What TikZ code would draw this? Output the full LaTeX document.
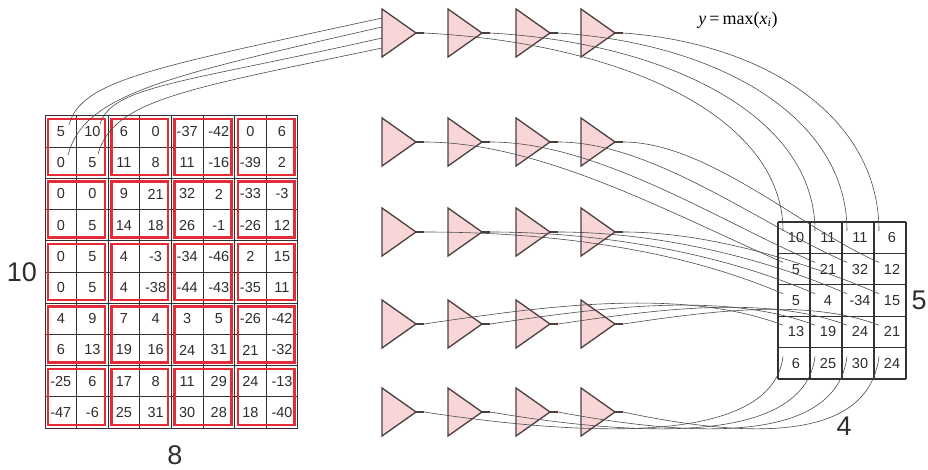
\documentclass[tikz,border=0pt]{standalone}
\usepackage{fontspec}
\setmainfont{Liberation Sans}
\newfontfamily\tms{Liberation Serif}
\definecolor{redb}{RGB}{226,44,56}
\definecolor{trifill}{RGB}{248,214,216}
\definecolor{tristroke}{RGB}{75,62,62}
\definecolor{wirec}{RGB}{75,75,75}
\definecolor{gridc}{RGB}{50,50,50}
\definecolor{txt}{RGB}{45,45,45}
\begin{document}
\begin{tikzpicture}[x=1pt,y=-1pt,
  num/.style={font=\fontsize{14.5}{14.5}\selectfont, text=txt, inner sep=0pt},
  big/.style={font=\fontsize{27}{27}\selectfont, text=txt, inner sep=0pt},
  gline/.style={draw=gridc, line width=1pt},
  rline/.style={draw=gridc, line width=1.2pt},
  redbox/.style={draw=redb, line width=2.5pt},
  tri/.style={fill=trifill, draw=tristroke, line width=1.3pt, line join=miter},
  stubline/.style={draw=tristroke, line width=1.3pt},
  wire/.style={draw=wirec, line width=0.6pt}]
\useasboundingbox (0,0) rectangle (928,470);

% ---------- left grid 10 x 8 ----------
\foreach \i in {0,...,8} \draw[gline] ({45+31.6*\i},116) -- ({45+31.6*\i},428);
\foreach \j in {0,...,10} \draw[gline] (45,{116+31.2*\j}) -- (297.8,{116+31.2*\j});
\foreach \br in {1,...,5} \foreach \bc in {1,...,4}
  \draw[redbox] ({45+63.2*(\bc-1)+3.2},{116+62.4*(\br-1)+3.2}) rectangle ({45+63.2*\bc-3.2},{116+62.4*\br-3.2});
\foreach \r/\vals in {1/{5,10,6,0,-37,-42,0,6},
                      2/{0,5,11,8,11,-16,-39,2},
                      3/{0,0,9,21,32,2,-33,-3},
                      4/{0,5,14,18,26,-1,-26,12},
                      5/{0,5,4,-3,-34,-46,2,15},
                      6/{0,5,4,-38,-44,-43,-35,11},
                      7/{4,9,7,4,3,5,-26,-42},
                      8/{6,13,19,16,24,31,21,-32},
                      9/{-25,6,17,8,11,29,24,-13},
                      10/{-47,-6,25,31,30,28,18,-40}}
  \foreach \v [count=\c] in \vals
    \node[num] (L-\r-\c) at ({45+31.6*(\c-0.5)},{116+31.2*(\r-0.5)}) {\v};

% ---------- right grid 5 x 4 ----------
\foreach \i in {0,...,4} \draw[rline] ({778+32*\i},222) -- ({778+32*\i},379);
\foreach \j in {0,...,5} \draw[rline] (778,{222+31.4*\j}) -- (906,{222+31.4*\j});
\foreach \r/\vals in {1/{10,11,11,6},2/{5,21,32,12},3/{5,4,-34,15},4/{13,19,24,21},5/{6,25,30,24}}
  \foreach \v [count=\c] in \vals {
    \node[num] (R-\r-\c) at ({778+32*(\c-0.5)+2},{222+31.4*(\r-0.5)}) {\v};
    \coordinate (E-\r-\c) at ({778+32*(\c-1)+5},{222+31.4*(\r-1)+9});
  }

% ---------- labels ----------
\node[big] (lab10) at (22,272) {10};
\node[big] (lab8) at (175,455) {8};
\node[big] (lab5) at (919,300) {5};
\node[big] (lab4) at (844,426) {4};
\node[text=black, inner sep=0pt] (formula) at (738,20)
  {\tms\fontsize{18}{18}\selectfont\itshape y\upshape\,=\,max(\itshape x\textsubscript{\itshape i}\upshape)};

% ---------- triangles ----------
\foreach \r/\yc in {1/33,2/142,3/232,4/324,5/412}
  \foreach \c/\L in {1/382,2/448,3/516,4/581} {
    \draw[tri] (\L,\yc-24) -- (\L+34,\yc) -- (\L,\yc+24) -- cycle;
    \draw[stubline] (\L+34,\yc) -- (\L+42,\yc);
    \coordinate (O-\r-\c) at (\L+42,\yc);
  }

% ---------- input wires into the first unit ----------
\coordinate (S-1) at (69,125);
\coordinate (S-2) at (100,124);
\coordinate (S-3) at (68,155);
\coordinate (S-4) at (98,154);
\coordinate (I-1) at (382,18);
\coordinate (I-2) at (382,27);
\coordinate (I-3) at (382,38);
\coordinate (I-4) at (382,48);
\draw[wire] (S-1) .. controls +(12,-45) and +(-230,50) .. (I-1);
\draw[wire] (S-3) .. controls +(16,-60) and +(-220,50) .. (I-2);
\draw[wire] (S-2) .. controls +(12,-38) and +(-200,45) .. (I-3);
\draw[wire] (S-4) .. controls +(16,-54) and +(-200,42) .. (I-4);

% ---------- output wires ----------
\foreach \c/\L in {1/382,2/448,3/516,4/581} {
  \pgfmathsetmacro\dx{783+32*(\c-1)-(\L+42)}
  \draw[wire] (O-1-\c) .. controls +({0.55*\dx},10) and +(0,-115) .. (E-1-\c);
  \draw[wire] (O-2-\c) .. controls +({0.33*\dx},0) and +({-0.3*\dx},{-0.13*\dx}) .. (E-2-\c);
  \draw[wire] (O-3-\c) .. controls +({0.33*\dx},0) and +({-0.3*\dx},{-0.13*\dx}) .. (E-3-\c);
  \draw[wire] (O-4-\c) .. controls +({0.31*\dx},{-0.045*\dx}) and +({-0.29*\dx},{-0.11*\dx}) .. (E-4-\c);
  \draw[wire] (O-5-\c) .. controls +({0.55*\dx},30) and +(-10,80) .. (E-5-\c);
}
\end{tikzpicture}
\end{document}
